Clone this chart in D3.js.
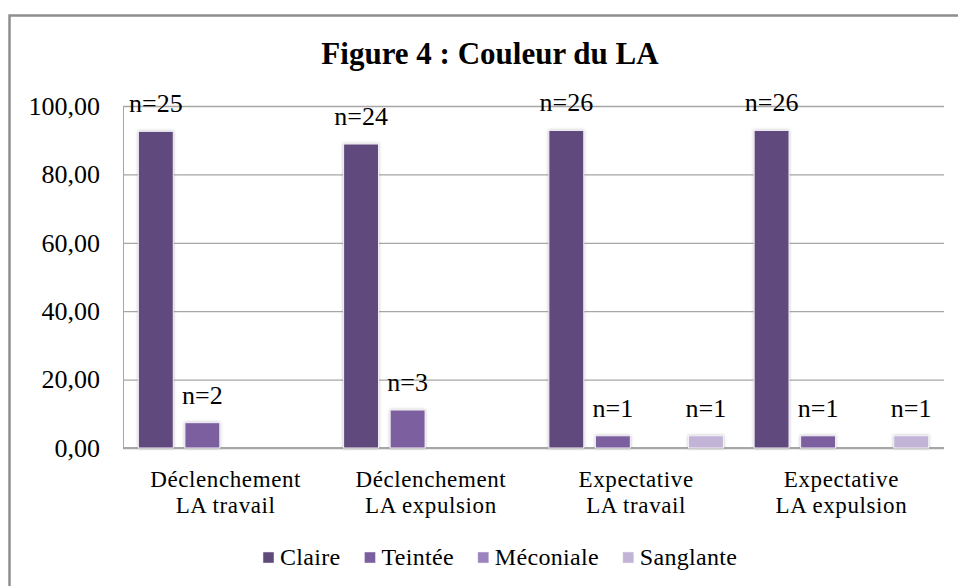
<!doctype html>
<html>
<head>
<meta charset="utf-8">
<title>Figure 4 : Couleur du LA</title>
<script src="https://d3js.org/d3.v7.min.js"></script>
<style>
  body { margin: 0; background: #fff; }
  svg text { font-family: "Liberation Serif", serif !important; fill: #000; }
</style>
</head>
<body>
<svg width="958" height="586"></svg>
<script>
// data
var categories = [["Déclenchement", "LA travail"], ["Déclenchement", "LA expulsion"],
                  ["Expectative", "LA travail"], ["Expectative", "LA expulsion"]];
var series = ["Claire", "Teintée", "Méconiale", "Sanglante"];
var claire = [92.59, 88.89, 92.86, 92.86];
var teintee = [7.41, 11.11, 3.57, 3.57];
var meconiale = [0, 0, 0, 0];
var sanglante = [0, 0, 3.57, 3.57];
var claireN = [25, 24, 26, 26];
var teinteeN = [2, 3, 1, 1];
var meconialeN = [0, 0, 0, 0];
var sanglanteN = [0, 0, 1, 1];
var yTicks = [0, 20, 40, 60, 80, 100];

var colors = ["#604a7b", "#7b5e9f", "#9c83bd", "#c1b4d6"];
var values = [claire, teintee, meconiale, sanglante];
var counts = [claireN, teinteeN, meconialeN, sanglanteN];
var serif = "'Liberation Serif', serif";

var svg = d3.select("svg");
var plotL = 123, plotR = 944, plotT = 106, plotB = 448;

// frame (only top and left edges are inside the window)
svg.append("rect")
    .attr("x", 9.5).attr("y", 15.5)
    .attr("width", 1100).attr("height", 1100)
    .attr("fill", "none")
    .attr("stroke", "#8e8e8e")
    .attr("stroke-width", 2.5);

// shadow for the bars
var defs = svg.append("defs");
var f = defs.append("filter").attr("id", "glow")
    .attr("x", "-30%").attr("y", "-30%").attr("width", "160%").attr("height", "160%");
f.append("feDropShadow")
    .attr("dx", 0).attr("dy", 0)
    .attr("stdDeviation", 1.8)
    .attr("flood-color", "#888")
    .attr("flood-opacity", 0.55);

svg.append("text")
    .attr("x", 490).attr("y", 64)
    .attr("text-anchor", "middle")
    .style("font-family", serif)
    .attr("font-size", 31)
    .attr("font-weight", "bold")
    .text("Figure 4 : Couleur du LA");

var y = d3.scaleLinear().domain([0, 100]).range([plotB, plotT]);
var x0 = d3.scaleBand().domain(d3.range(categories.length)).range([plotL, plotR]).padding(0);
var x1 = d3.scaleBand().domain(d3.range(series.length)).range([0, x0.bandwidth()])
    .paddingInner(0.25).paddingOuter(0.33);

// gridlines
var grid = svg.append("g")
    .attr("transform", "translate(" + plotL + ",0)")
    .call(d3.axisLeft(y).tickValues(yTicks).tickSize(-(plotR - plotL)).tickFormat(""));
grid.select(".domain").remove();
grid.selectAll("line").attr("stroke", "#a6a6a6").attr("stroke-width", 1.3);

// y axis labels
var yAxis = svg.append("g")
    .attr("transform", "translate(" + plotL + ",0)")
    .call(d3.axisLeft(y).tickValues(yTicks).tickSize(0).tickPadding(23)
        .tickFormat(function (d) { return d3.format(".2f")(d).replace(".", ","); }));
yAxis.attr("font-family", null);
yAxis.select(".domain").attr("stroke", "#a6a6a6").attr("stroke-width", 1);
yAxis.selectAll("text")
    .style("font-family", serif)
    .attr("font-size", 26)
    .attr("fill", "#000")
    .attr("dy", "0.32em");

// bottom axis line
svg.append("line")
    .attr("x1", plotL).attr("x2", plotR)
    .attr("y1", plotB).attr("y2", plotB)
    .attr("stroke", "#a6a6a6").attr("stroke-width", 2);

// bars
var groups = svg.selectAll("g.cat")
    .data(categories)
    .enter().append("g")
    .attr("class", "cat")
    .attr("transform", function (d, i) { return "translate(" + x0(i) + ",0)"; });

groups.each(function (c, ci) {
    var g = d3.select(this);
    var rows = series.map(function (s, si) {
        return { si: si, v: values[si][ci], n: counts[si][ci] };
    }).filter(function (d) { return d.v > 0; });

    g.selectAll("rect")
        .data(rows)
        .enter().append("rect")
        .attr("x", function (d) { return x1(d.si); })
        .attr("y", function (d) { return y(d.v); })
        .attr("width", x1.bandwidth())
        .attr("height", function (d) { return y(0) - y(d.v); })
        .attr("fill", function (d) { return colors[d.si]; })
        .attr("stroke", "#f4f0f8")
        .attr("stroke-width", 1)
        .attr("filter", "url(#glow)");

    g.selectAll("text.lbl")
        .data(rows)
        .enter().append("text")
        .attr("class", "lbl")
        .attr("x", function (d) { return x1(d.si) + x1.bandwidth() / 2; })
        .attr("y", function (d) { return y(d.v) - 19; })
        .attr("text-anchor", "middle")
        .style("font-family", serif)
        .attr("font-size", 26)
        .text(function (d) { return "n=" + d.n; });
});

// category labels
var xl = svg.selectAll("text.xl")
    .data(categories)
    .enter().append("text")
    .attr("class", "xl")
    .attr("text-anchor", "middle")
    .style("font-family", serif)
    .attr("font-size", 23)
    .attr("letter-spacing", 0.6);
xl.each(function (lines, i) {
    var t = d3.select(this);
    var cx = x0(i) + x0.bandwidth() / 2;
    lines.forEach(function (line, k) {
        t.append("tspan")
            .attr("x", cx)
            .attr("y", 487 + k * 25.5)
            .text(line);
    });
});

// legend
var lx = 263;
var legend = svg.append("g");
series.forEach(function (s, i) {
    legend.append("rect")
        .attr("x", lx).attr("y", 552)
        .attr("width", 11).attr("height", 11)
        .attr("fill", colors[i])
        .attr("stroke", "#eee").attr("stroke-width", 0.5);
    var t = legend.append("text")
        .attr("x", lx + 17).attr("y", 565)
        .style("font-family", serif)
        .attr("font-size", 24)
        .attr("letter-spacing", 0.3)
        .text(s);
    lx += 17 + t.node().getComputedTextLength() + 24;
});
</script>
</body>
</html>
